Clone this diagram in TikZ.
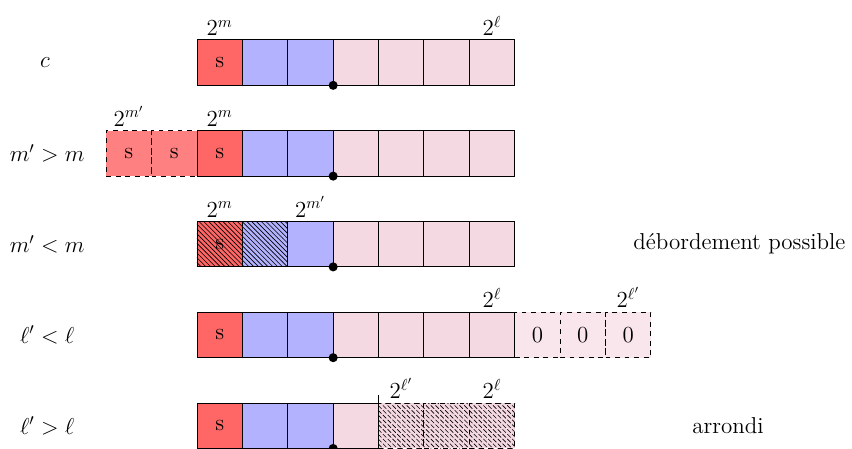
\documentclass[tikz,border=0pt]{standalone}
\usetikzlibrary{patterns}
\begin{document}
\begin{tikzpicture}[
  line width=0.6pt,
  cell/.style={draw, minimum size=1cm, inner sep=0pt, outer sep=0pt, font=\Large},
  sgn/.style={cell, fill=red!60},
  sgnx/.style={cell, fill=red!50, dashed},
  mant/.style={cell, fill=blue!30},
  frac/.style={cell, fill=purple!15},
  zero/.style={cell, fill=purple!10, dashed},
  hatch/.style={postaction={pattern=north west lines}},
  lbl/.style={font=\Large},
  pow/.style={font=\Large, above, inner sep=2.5pt},
  pt/.style={circle, fill=black, inner sep=0pt, minimum size=0.2cm},
]
\useasboundingbox (-4.34,-9) rectangle (14.43,0.88);

% ---------- row 1 : c
\node[sgn]  (a0) at (0.5,-0.5) {s};
\node[mant] (a1) at (1.5,-0.5) {};
\node[mant] (a2) at (2.5,-0.5) {};
\foreach \i in {3,...,6} \node[frac] (a\i) at (\i+0.5,-0.5) {};
\node[pt] (ad) at (a2.south east) {};
\node[pow] (am) at (a0.north) {$2^m$};
\node[pow] (al) at (a6.north) {$2^\ell$};
\node[lbl] (ta) at (-3.35,-0.5) {$c$};

% ---------- row 2 : m' > m
\node[sgnx] (bm2) at (-1.5,-2.5) {s};
\node[sgnx] (bm1) at (-0.5,-2.5) {s};
\node[sgn]  (b0) at (0.5,-2.5) {s};
\node[mant] (b1) at (1.5,-2.5) {};
\node[mant] (b2) at (2.5,-2.5) {};
\foreach \i in {3,...,6} \node[frac] (b\i) at (\i+0.5,-2.5) {};
\node[pt] (bd) at (b2.south east) {};
\node[pow] (bmp) at (bm2.north) {$2^{m'}$};
\node[pow] (bm) at (b0.north) {$2^m$};
\node[lbl] (tb) at (-3.3,-2.5) {$m' > m$};

% ---------- row 3 : m' < m
\node[sgn, hatch]  (c0) at (0.5,-4.5) {s};
\node[mant, hatch] (c1) at (1.5,-4.5) {};
\node[mant] (c2) at (2.5,-4.5) {};
\foreach \i in {3,...,6} \node[frac] (c\i) at (\i+0.5,-4.5) {};
\node[pt] (cd) at (c2.south east) {};
\node[pow] (cm) at (c0.north) {$2^m$};
\node[pow] (cmp) at (c2.north) {$2^{m'}$};
\node[lbl] (tc) at (-3.3,-4.5) {$m' < m$};
\node[lbl] (rc) at (11.95,-4.5) {débordement possible};

% ---------- row 4 : l' < l
\foreach \i in {7,8,9} \node[zero] (d\i) at (\i+0.5,-6.5) {0};
\node[sgn]  (d0) at (0.5,-6.5) {s};
\node[mant] (d1) at (1.5,-6.5) {};
\node[mant] (d2) at (2.5,-6.5) {};
\foreach \i in {3,...,6} \node[frac] (d\i) at (\i+0.5,-6.5) {};
\node[pt] (dd) at (d2.south east) {};
\node[pow] (dl) at (d6.north) {$2^\ell$};
\node[pow] (dlp) at (d9.north) {$2^{\ell'}$};
\node[lbl] (td) at (-3.3,-6.5) {$\ell' < \ell$};

% ---------- row 5 : l' > l
\foreach \i in {4,5,6} \node[frac, dashed, hatch] (e\i) at (\i+0.5,-8.5) {};
\node[sgn]  (e0) at (0.5,-8.5) {s};
\node[mant] (e1) at (1.5,-8.5) {};
\node[mant] (e2) at (2.5,-8.5) {};
\node[frac] (e3) at (3.5,-8.5) {};
\node[pt] (ed) at (e2.south east) {};
\coordinate (et) at ([yshift=0.18cm]e4.north west);
\draw (e4.north west) -- (et);
\node[pow] (elp) at (e4.north) {$2^{\ell'}$};
\node[pow] (el) at (e6.north) {$2^\ell$};
\node[lbl] (te) at (-3.3,-8.5) {$\ell' > \ell$};
\node[lbl] (re) at (11.7,-8.5) {arrondi};
\end{tikzpicture}
\end{document}
